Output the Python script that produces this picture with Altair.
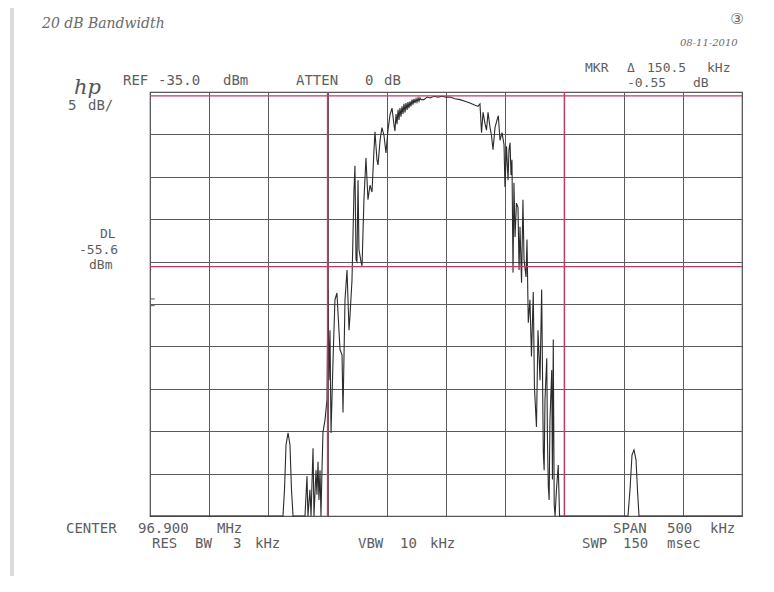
import altair as alt
import pandas as pd

# ---- spectrum trace (offset from centre in kHz, level in dBm) ----
freq_khz = [-250.0, -137.7, -136.4, -135.1, -133.4, -131.8, -130.5, -129.2, -119.1, -117.4,
            -116.6, -114.9, -114.0, -112.3, -111.5, -109.8, -109.0, -108.1, -107.3, -106.4,
            -105.6, -104.7, -103.9, -102.2, -100.5, -99.7, -98.8, -98.0, -97.1, -95.4,
            -93.8, -92.1, -90.4, -89.5, -87.8, -87.0, -85.3, -83.6, -81.9, -81.1,
            -79.4, -77.7, -76.9, -76.0, -75.2, -74.3, -73.5, -71.8, -70.9, -69.3,
            -67.6, -65.9, -64.2, -62.5, -60.8, -60.0, -58.3, -57.4, -55.7, -54.1,
            -52.4, -50.7, -49.0, -47.3, -45.6,
            -43.9, -43.1, -42.2, -41.4, -40.5, -39.7, -38.9, -38.0, -37.2, -36.3,
            -35.5, -34.6, -33.8, -32.9, -32.1, -31.3, -30.4, -29.6, -28.7, -27.9,
            -27.0, -26.2, -25.3, -24.5, -23.6, -22.8, -22.0, -21.1,
            -18.6, -16.0, -13.5, -10.1, -6.8, -3.4, 0.0, 3.4, 7.6, 11.8,
            16.0, 20.3, 23.6, 27.0, 28.7, 30.0, 31.3, 32.9, 34.2, 35.5,
            37.2, 38.4, 39.7, 41.4, 43.1, 44.2, 45.6, 47.3, 49.0, 49.8,
            51.1, 52.4, 53.2, 54.1, 54.9, 55.7, 56.6, 57.4, 58.3, 59.5,
            60.8, 61.7, 62.5, 63.8, 65.0, 65.9, 67.6, 68.4, 69.5, 70.9,
            72.2, 73.7, 74.7, 76.4, 77.7, 79.4, 80.8, 82.2, 82.9, 83.6, 85.1,
            85.7, 86.4, 87.1, 87.8, 89.3, 89.9, 90.6, 91.4, 92.1, 93.3, 94.8, 95.9, 153.7,
            155.4, 157.1, 158.8, 160.5, 161.7, 163.0, 250.0]
level_dbm = [-85.0, -85.0, -81.9, -76.6, -75.2, -76.6, -81.9, -85.0, -85.0, -80.3,
             -85.0, -81.9, -85.0, -77.0, -85.0, -79.6, -82.5, -78.6, -83.1, -79.6,
             -85.0, -79.3, -75.1, -73.7, -71.3, -58.3, -69.0, -63.1, -75.2, -66.6,
             -59.5, -58.7, -63.1, -65.4, -66.0, -72.8, -59.5, -56.0, -63.1, -61.4,
             -57.2, -46.6, -43.7, -54.8, -55.0, -45.4, -53.6, -55.0, -55.5, -47.7,
             -42.8, -47.7, -46.0, -46.8, -41.8, -39.7, -43.0, -43.6, -40.7, -39.2,
             -40.1, -42.2, -39.5, -37.7, -36.9,
             -38.9, -39.6, -37.6, -38.8, -37.1, -38.3, -36.9, -37.9, -36.7, -37.6,
             -36.4, -37.4, -36.3, -37.1, -36.2, -36.9, -36.1, -36.7, -35.9, -36.5,
             -35.8, -36.3, -35.8, -36.2, -35.7, -36.1, -35.7, -35.9,
             -35.9, -35.6, -35.7, -35.5, -35.6, -35.5, -35.6, -35.6, -35.8, -35.9,
             -36.1, -36.3, -36.5, -36.7, -36.4, -39.8, -37.4, -38.7, -39.5, -37.4,
             -39.2, -40.1, -41.8, -39.2, -38.3, -37.8, -40.7, -39.8, -41.2, -46.2,
             -41.4, -45.4, -41.8, -41.0, -44.8, -43.0, -56.3, -45.7, -52.1, -48.1,
             -48.6, -56.0, -50.9, -57.5, -47.7, -54.8, -56.8, -52.4, -62.2, -59.5,
             -66.2, -58.6, -69.8, -74.5, -63.1, -69.0, -58.3, -77.6, -79.6, -71.3, -66.4,
             -76.0, -81.5, -83.1, -73.7, -67.8, -80.7, -64.2, -83.7, -85.0, -81.9, -79.0, -85.0, -85.0,
             -81.9, -77.8, -77.2, -78.4, -81.9, -85.0, -85.0]

# marker / display-line settings
marker_levels = [-35.45, -55.6]        # reference marker line, display line (DL)
marker_freqs = [-100.0, 100.0]         # the two vertical markers
edge_ticks = [-59.4, -60.2]            # small "=" ticks on the left graticule edge
x_grid = [-250, -200, -150, -100, -50, 0, 50, 100, 150, 200, 250]
y_grid = [-85, -80, -75, -70, -65, -60, -55, -50, -45, -40, -35]

# ---- instrument annotation words (text, x, y in px relative to plot origin, size) ----
inst_text = ["REF", "-35.0", "dBm", "ATTEN", "0", "dB",
             "MKR", "Δ", "150.5", "kHz", "-0.55", "dB",
             "5", "dB/", "DL", "-55.6", "dBm",
             "CENTER", "96.900", "MHz", "SPAN", "500", "kHz",
             "RES", "BW", "3", "kHz", "VBW", "10", "kHz", "SWP", "150", "msec"]
inst_x = [-27, 8, 73, 146, 215, 234,
          435, 477, 497, 557, 477, 543,
          -82, -62, -50, -71, -61,
          -84, -12, 67, 463, 517, 560,
          2, 45, 83, 105, 208, 250, 280, 432, 473, 517]
inst_y = [-7, -7, -7, -7, -7, -7,
          -20, -20, -20, -20, -5, -5,
          18, 18, 146, 162, 177,
          441, 441, 441, 441, 441, 441,
          456, 456, 456, 456, 456, 456, 456, 456, 456, 456]
inst_size = [14, 14, 14, 14, 14, 14,
             13, 13, 13, 13, 13, 13,
             14, 14, 13, 13, 13,
             14, 14, 14, 14, 14, 14,
             14, 14, 14, 14, 14, 14, 14, 14, 14, 14]

hand_text = ["20 dB Bandwidth", "08-11-2010"]
hand_x = [-108, 530]
hand_y = [-64, -46]
hand_size = [14, 10]

XS = alt.Scale(domain=[-250, 250], nice=False, zero=False)
YS = alt.Scale(domain=[-85, -35], nice=False, zero=False)

trace_df = pd.DataFrame({"freq": freq_khz, "level": level_dbm})

base_axis_x = alt.Axis(values=x_grid, grid=True, labels=False, ticks=False, domain=False,
                       title=None, gridColor="#5a5a5a", gridWidth=1, gridOpacity=1)
base_axis_y = alt.Axis(values=y_grid, grid=True, labels=False, ticks=False, domain=False,
                       title=None, gridColor="#5a5a5a", gridWidth=1, gridOpacity=1)

# faint scanner edge on the left of the page
scan_edge = alt.Chart(pd.DataFrame({"k": [0]})).mark_rect(color="#dcdcdc").encode(
    x=alt.value(-140), x2=alt.value(-136), y=alt.value(-84), y2=alt.value(484))

trace = alt.Chart(trace_df).mark_line(color="#2b2b2b", strokeWidth=1.1).encode(
    x=alt.X("freq:Q", scale=XS, axis=base_axis_x),
    y=alt.Y("level:Q", scale=YS, axis=base_axis_y),
)

hrules = alt.Chart(pd.DataFrame({"level": marker_levels})).mark_rule(
    color="#c23a6c", strokeWidth=1.3).encode(y=alt.Y("level:Q", scale=YS))

vrules = alt.Chart(pd.DataFrame({"freq": marker_freqs})).mark_rule(
    color="#c23a6c", strokeWidth=1.5).encode(x=alt.X("freq:Q", scale=XS))

ticks = alt.Chart(pd.DataFrame({"level": edge_ticks, "f0": [-250, -250], "f1": [-246, -246]})).mark_rule(
    color="#555555", strokeWidth=1).encode(
    x=alt.X("f0:Q", scale=XS), x2="f1:Q", y=alt.Y("level:Q", scale=YS))

inst_df = pd.DataFrame({"t": inst_text, "px": inst_x, "py": inst_y, "s": inst_size})
inst = alt.Chart(inst_df).mark_text(
    font="DejaVu Sans Mono", color="#5e5e5e", align="left",
    baseline="alphabetic").encode(
    x=alt.X("px:Q", scale=None, axis=None),
    y=alt.Y("py:Q", scale=None, axis=None),
    size=alt.Size("s:Q", scale=None, legend=None),
    text="t:N")

hand_df = pd.DataFrame({"t": hand_text, "px": hand_x, "py": hand_y, "s": hand_size})
hand = alt.Chart(hand_df).mark_text(
    font="DejaVu Serif", fontStyle="italic", color="#6a6a6a", align="left",
    baseline="alphabetic").encode(
    x=alt.X("px:Q", scale=None, axis=None),
    y=alt.Y("py:Q", scale=None, axis=None),
    size=alt.Size("s:Q", scale=None, legend=None),
    text="t:N")

logo = alt.Chart(pd.DataFrame({"t": ["hp"]})).mark_text(
    font="DejaVu Serif", fontStyle="italic", fontSize=21, color="#555555",
    align="left", baseline="alphabetic").encode(
    x=alt.value(-76), y=alt.value(2), text="t:N")

circ = alt.Chart(pd.DataFrame({"t": ["③"]})).mark_text(
    font="DejaVu Sans", fontSize=15, color="#6a6a6a", align="center",
    baseline="middle").encode(x=alt.value(587), y=alt.value(-73), text="t:N")

chart = alt.layer(scan_edge, trace, hrules, vrules, ticks, inst, hand, logo, circ).properties(
    width=592, height=424,
    autosize=alt.AutoSizeParams(type="none"),
    padding={"left": 142, "top": 84, "right": 20, "bottom": 60},
    background="white",
).configure_view(stroke="#4a4a4a", strokeWidth=1.2)

chart.save("out.html", embed_options={"renderer": "svg", "actions": False})
